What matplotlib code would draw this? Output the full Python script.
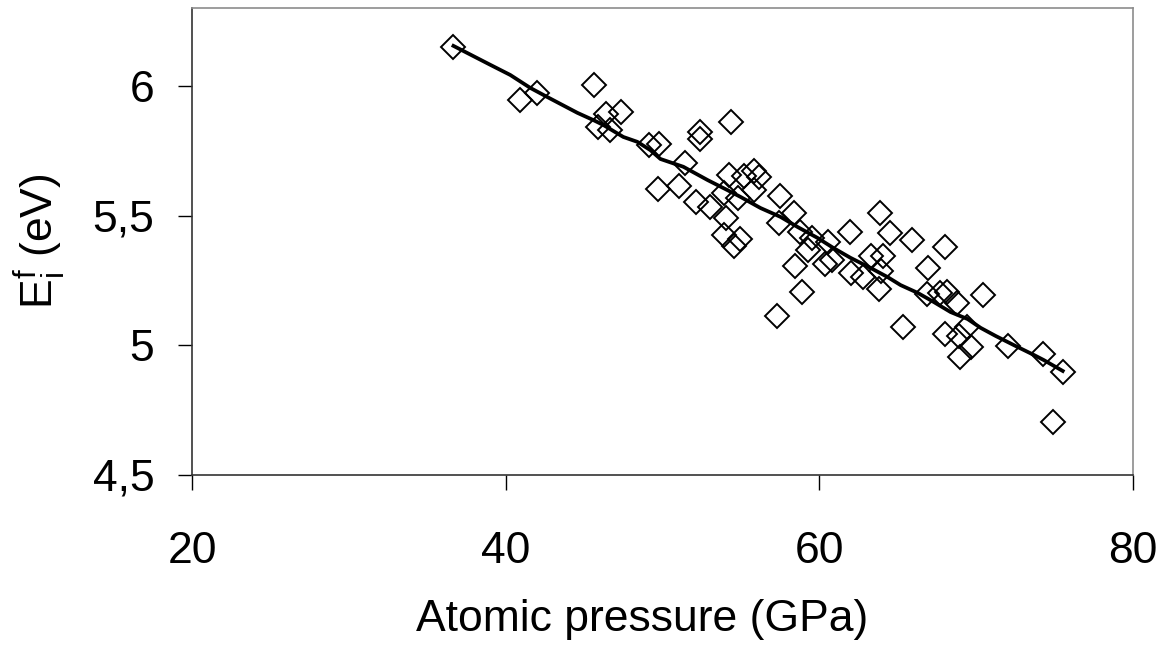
import numpy as np
import matplotlib
matplotlib.use('Agg')
import matplotlib.pyplot as plt

plt.rcParams['font.family'] = ['Liberation Sans', 'DejaVu Sans']
plt.rcParams['mathtext.fontset'] = 'custom'
plt.rcParams['mathtext.rm'] = 'Liberation Sans'
plt.rcParams['mathtext.it'] = 'Liberation Sans'

# scatter data: atomic pressure (GPa) vs formation energy (eV)
pressure = [36.64, 40.89, 42.00, 45.61, 46.40, 47.36, 45.87, 46.68, 49.13, 49.80,
            52.37, 52.37, 54.38, 51.46, 49.69, 51.03, 52.16, 53.06, 54.24, 53.91,
            54.81, 55.20, 55.86, 56.14, 55.82, 54.08, 53.91, 54.91, 54.54, 57.52,
            58.37, 57.46, 58.76, 59.55, 60.56, 59.28, 58.42, 60.82, 60.33, 61.95,
            62.02, 58.91, 57.27, 63.87, 64.50, 65.93, 67.99, 63.27, 64.08, 62.80,
            63.91, 63.80, 66.95, 66.84, 67.69, 68.16, 68.78, 70.42, 65.33, 67.99,
            68.90, 69.67, 68.99, 69.44, 72.01, 74.29, 75.52, 74.90]
energy = [6.149, 5.946, 5.971, 6.003, 5.892, 5.901, 5.840, 5.830, 5.771, 5.776,
          5.823, 5.795, 5.861, 5.702, 5.602, 5.614, 5.551, 5.532, 5.655, 5.586,
          5.567, 5.651, 5.673, 5.650, 5.599, 5.489, 5.425, 5.410, 5.383, 5.576,
          5.509, 5.473, 5.438, 5.412, 5.399, 5.367, 5.305, 5.328, 5.315, 5.437,
          5.279, 5.207, 5.111, 5.508, 5.432, 5.406, 5.380, 5.344, 5.344, 5.263,
          5.286, 5.215, 5.297, 5.197, 5.202, 5.204, 5.163, 5.195, 5.069, 5.044,
          5.036, 4.993, 4.954, 5.072, 4.998, 4.968, 4.897, 4.705]

# trend line (moving average)
trend_x = [36.67, 39.02, 40.29, 41.57, 42.65, 44.57, 45.59, 46.23, 47.50, 48.40,
           49.23, 49.87, 51.33, 52.87, 54.14, 54.97, 56.25, 57.52, 58.61, 59.88,
           60.90, 61.99, 63.27, 64.35, 65.18, 66.27, 67.29, 68.37, 69.46, 70.29,
           71.24, 72.39, 73.67, 74.31, 75.52]
trend_y = [6.154, 6.081, 6.042, 5.992, 5.957, 5.896, 5.868, 5.849, 5.803, 5.784,
           5.752, 5.718, 5.688, 5.637, 5.598, 5.572, 5.529, 5.495, 5.456, 5.414,
           5.375, 5.337, 5.298, 5.263, 5.232, 5.202, 5.167, 5.128, 5.101, 5.067,
           5.036, 5.001, 4.963, 4.943, 4.901]

x_ticks = [20, 40, 60, 80]
y_ticks = [4.5, 5, 5.5, 6]
y_labels = ['4,5', '5', '5,5', '6']

fig = plt.figure(figsize=(11.6, 6.48), dpi=100)
ax = fig.add_axes([192/1160, 1 - 475/648, 941/1160, 467/648])

ax.plot(trend_x, trend_y, color='black', lw=2.7, zorder=3)
ax.plot(pressure, energy, linestyle='none', marker='D', ms=12.5,
        mfc='none', mec='black', mew=1.4, zorder=2)

ax.set_xlim(20, 80)
ax.set_ylim(4.5, 6.3)
ax.set_xticks(x_ticks)
ax.set_yticks(y_ticks)
ax.set_yticklabels(y_labels)

ax.tick_params(axis='x', direction='out', length=11, width=1, pad=29, labelsize=32)
ax.tick_params(axis='y', direction='out', length=10, width=1, pad=17, labelsize=32)

for side in ['left', 'bottom']:
    ax.spines[side].set_color('#333333')
    ax.spines[side].set_linewidth(1.2)
for side in ['top', 'right']:
    ax.spines[side].set_color('#8c8c8c')
    ax.spines[side].set_linewidth(1.2)

ax.set_xlabel('Atomic pressure (GPa)', fontsize=32, labelpad=28)
ax.set_ylabel(r'$\mathregular{E_i^f}$ (eV)', fontsize=32, labelpad=18)
ax.xaxis.set_label_coords((642 - 192) / 941, -0.265)

fig.savefig('out.png', dpi=100)
